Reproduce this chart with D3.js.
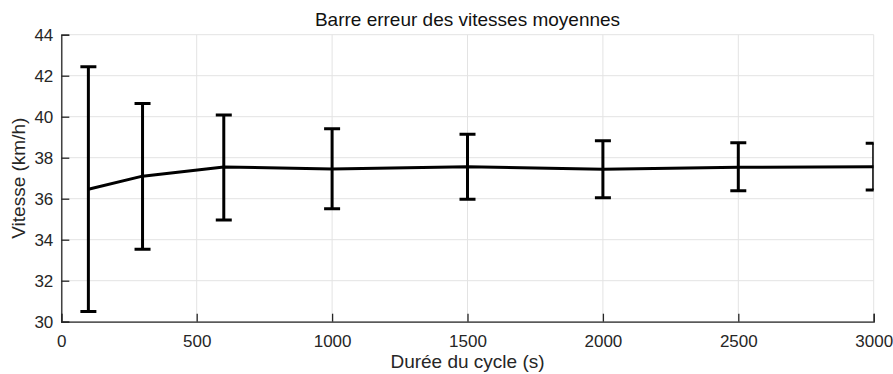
<!DOCTYPE html>
<html>
<head>
<meta charset="utf-8">
<script src="https://cdn.jsdelivr.net/npm/d3@7"></script>
<style>
  html, body { margin: 0; padding: 0; background: #fff; }
  svg { display: block; }
  text { font-family: "Liberation Sans", Arial, Helvetica, sans-serif; fill: #262626; }
</style>
</head>
<body>
<svg id="chart" width="893" height="374"></svg>
<script>
// Cycle durations (s) and mean speeds (km/h) with their error bounds
const durations = [100, 300, 600, 1000, 1500, 2000, 2500, 3000];
const meanSpeed = [36.46, 37.10, 37.55, 37.45, 37.56, 37.44, 37.53, 37.56];
const upperBound = [42.44, 40.65, 40.08, 39.41, 39.14, 38.83, 38.73, 38.70];
const lowerBound = [30.50, 33.53, 34.96, 35.51, 35.97, 36.05, 36.39, 36.42];
const xTicks = [0, 500, 1000, 1500, 2000, 2500, 3000];
const yTicks = [30, 32, 34, 36, 38, 40, 42, 44];

const svg = d3.select("#chart");
const W = 893, H = 374;
const margin = { left: 61.3, right: W - 873.7, top: 34.7, bottom: H - 321.7 };
const innerW = W - margin.left - margin.right;
const innerH = H - margin.top - margin.bottom;

const x = d3.scaleLinear().domain([0, 3000]).range([0, innerW]);
const y = d3.scaleLinear().domain([30, 44]).range([innerH, 0]);

const g = svg.append("g").attr("transform", `translate(${margin.left},${margin.top})`);

// grid
const gridColor = "#e3e3e3";
g.append("g").selectAll("line").data(xTicks).join("line")
  .attr("x1", d => x(d)).attr("x2", d => x(d))
  .attr("y1", 0).attr("y2", innerH)
  .attr("stroke", gridColor).attr("stroke-width", 1);
g.append("g").selectAll("line").data(yTicks).join("line")
  .attr("x1", 0).attr("x2", innerW)
  .attr("y1", d => y(d)).attr("y2", d => y(d))
  .attr("stroke", gridColor).attr("stroke-width", 1);

// axes with inward ticks
const axisColor = "#262626";
const xAxis = g.append("g").attr("transform", `translate(0,${innerH})`)
  .call(d3.axisBottom(x).tickValues(xTicks).tickSize(-8).tickPadding(13).tickFormat(d3.format("d")));
const yAxis = g.append("g")
  .call(d3.axisLeft(y).tickValues(yTicks).tickSize(-8).tickPadding(8).tickFormat(d3.format("d")));
[xAxis, yAxis].forEach(a => {
  a.select(".domain").attr("stroke", axisColor).attr("stroke-width", 1.3);
  a.selectAll(".tick line").attr("stroke", axisColor).attr("stroke-width", 1.3);
  a.selectAll(".tick text").attr("fill", axisColor)
    .style("font-size", "17px").style("font-family", "'Liberation Sans', Arial, sans-serif");
});

// data, clipped to the axes box
svg.append("defs").append("clipPath").attr("id", "plotClip")
  .append("rect").attr("x", 0).attr("y", -2).attr("width", innerW).attr("height", innerH + 4);
const plot = g.append("g").attr("clip-path", "url(#plotClip)");

const pts = durations.map((d, i) => ({ d, m: meanSpeed[i], hi: upperBound[i], lo: lowerBound[i] }));
const cap = 8;
const sw = 3;

plot.append("path").datum(pts)
  .attr("fill", "none").attr("stroke", "#000").attr("stroke-width", sw)
  .attr("stroke-linejoin", "round")
  .attr("d", d3.line().x(p => x(p.d)).y(p => y(p.m)));

const bars = plot.append("g").selectAll("g").data(pts).join("g");
bars.append("line")
  .attr("x1", p => x(p.d)).attr("x2", p => x(p.d))
  .attr("y1", p => y(p.hi)).attr("y2", p => y(p.lo))
  .attr("stroke", "#000").attr("stroke-width", sw);
bars.append("line")
  .attr("x1", p => x(p.d) - cap).attr("x2", p => x(p.d) + cap)
  .attr("y1", p => y(p.hi)).attr("y2", p => y(p.hi))
  .attr("stroke", "#000").attr("stroke-width", sw);
bars.append("line")
  .attr("x1", p => x(p.d) - cap).attr("x2", p => x(p.d) + cap)
  .attr("y1", p => y(p.lo)).attr("y2", p => y(p.lo))
  .attr("stroke", "#000").attr("stroke-width", sw);

// titles
svg.append("text")
  .attr("x", margin.left + innerW / 2).attr("y", 26)
  .attr("text-anchor", "middle").style("font-size", "19px")
  .style("fill", "#111")
  .text("Barre erreur des vitesses moyennes");
svg.append("text")
  .attr("x", margin.left + innerW / 2).attr("y", 368)
  .attr("text-anchor", "middle").style("font-size", "19px")
  .text("Durée du cycle (s)");
svg.append("text")
  .attr("transform", `translate(25,${margin.top + innerH / 2}) rotate(-90)`)
  .attr("text-anchor", "middle").style("font-size", "19px")
  .text("Vitesse (km/h)");
</script>
</body>
</html>
